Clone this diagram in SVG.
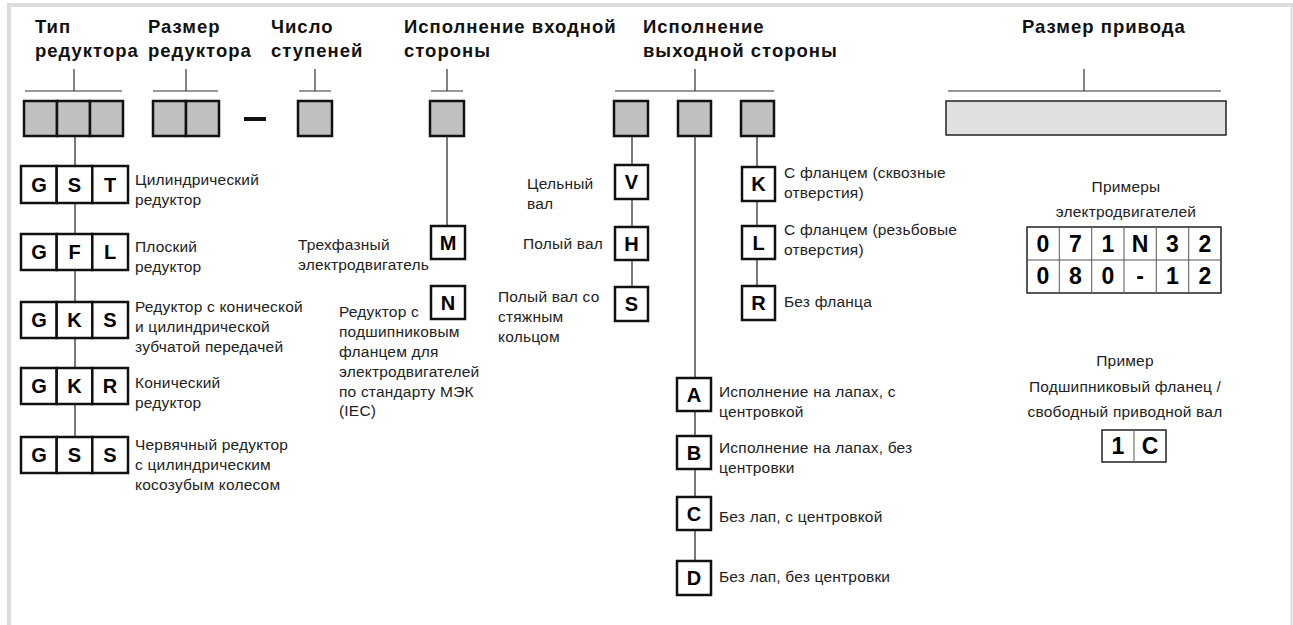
<svg xmlns="http://www.w3.org/2000/svg" width="1293" height="625" viewBox="0 0 1293 625">
<style>
.h{font-family:"Liberation Sans",Arial,sans-serif;font-weight:bold;font-size:18.5px;letter-spacing:1px;fill:#111}
.t{font-family:"Liberation Sans",Arial,sans-serif;font-size:15.5px;letter-spacing:0.2px;fill:#222}
.tc{font-family:"Liberation Sans",Arial,sans-serif;font-size:15.5px;letter-spacing:0.2px;fill:#222;text-anchor:middle}
.L{font-family:"Liberation Sans",Arial,sans-serif;font-weight:bold;font-size:20px;fill:#000;text-anchor:middle}
.d{font-family:"Liberation Sans Narrow","Liberation Sans",Arial,sans-serif;font-weight:bold;font-size:23px;fill:#000;text-anchor:middle}
.g{fill:#c0c0c0;stroke:#111;stroke-width:2.5}
.w{fill:#fff;stroke:#111;stroke-width:2.5}
.br{stroke:#333;stroke-width:1.2;fill:none}
.c{stroke:#333;stroke-width:1.3;fill:none}
.tb{fill:#fff;stroke:#222;stroke-width:1.5}
.ti{stroke:#555;stroke-width:1;fill:none}
</style>
<rect width="1293" height="625" fill="#fff"/>
<g id="frame" stroke="#dcdcdc" fill="none">
<line x1="9" y1="3" x2="9" y2="625" stroke-width="4"/>
<line x1="7" y1="5" x2="1293" y2="5" stroke-width="4"/>
<line x1="1291.5" y1="3" x2="1291.5" y2="625" stroke-width="2"/>
</g>
<g id="headings">
<text class="h" x="35" y="33">Тип</text>
<text class="h" x="35" y="57">редуктора</text>
<text class="h" x="148" y="33">Размер</text>
<text class="h" x="148" y="57">редуктора</text>
<text class="h" x="271" y="33">Число</text>
<text class="h" x="271" y="57">ступеней</text>
<text class="h" x="404" y="33">Исполнение входной</text>
<text class="h" x="404" y="57">стороны</text>
<text class="h" x="643" y="33">Исполнение</text>
<text class="h" x="643" y="57">выходной стороны</text>
<text class="h" x="1022" y="33">Размер привода</text>
</g>
<g id="connectors">
<path class="br" d="M25,91H122M74,69V91M153,91H218M186,69V91M299,91H331M315,69V91M431,91H463M447,69V91M615,91H774M695,69V91M948,91H1221M1084,69V91"/>
<path class="c" d="M75,136V437M447,136V226M632,136V287M695,136V561M757,136V286"/>
</g>
<g id="code-type">
<rect class="g" x="24" y="101" width="33" height="35"/>
<rect class="g" x="57" y="101" width="33" height="35"/>
<rect class="g" x="90" y="101" width="33" height="35"/>
</g>
<g id="code-size">
<rect class="g" x="153" y="101" width="33" height="35"/>
<rect class="g" x="186" y="101" width="33" height="35"/>
</g>
<rect id="dash" x="244" y="117" width="22" height="4" fill="#111"/>
<g id="code-stages"><rect class="g" x="298" y="101" width="34" height="35"/></g>
<g id="code-input"><rect class="g" x="430" y="101" width="34" height="35"/></g>
<g id="code-output">
<rect class="g" x="614" y="101" width="34" height="35"/>
<rect class="g" x="678" y="101" width="33" height="35"/>
<rect class="g" x="741" y="101" width="33" height="35"/>
</g>
<g id="code-drive"><rect x="946" y="101" width="280" height="34" fill="#e0e0e0" stroke="#222" stroke-width="1.5"/></g>

<g id="GST">
<rect class="w" x="21" y="166" width="35.7" height="37"/><rect class="w" x="56.7" y="166" width="35.6" height="37"/><rect class="w" x="92.3" y="166" width="35.7" height="37"/>
<text class="L" x="39" y="192">G</text><text class="L" x="74.5" y="192">S</text><text class="L" x="110" y="192">T</text>
<text class="t" x="135" y="185">Цилиндрический</text><text class="t" x="135" y="205">редуктор</text>
</g>
<g id="GFL">
<rect class="w" x="21" y="234" width="35.7" height="36"/><rect class="w" x="56.7" y="234" width="35.6" height="36"/><rect class="w" x="92.3" y="234" width="35.7" height="36"/>
<text class="L" x="39" y="259">G</text><text class="L" x="74.5" y="259">F</text><text class="L" x="110" y="259">L</text>
<text class="t" x="135" y="252">Плоский</text><text class="t" x="135" y="272">редуктор</text>
</g>
<g id="GKS">
<rect class="w" x="21" y="302" width="35.7" height="36"/><rect class="w" x="56.7" y="302" width="35.6" height="36"/><rect class="w" x="92.3" y="302" width="35.7" height="36"/>
<text class="L" x="39" y="327">G</text><text class="L" x="74.5" y="327">K</text><text class="L" x="110" y="327">S</text>
<text class="t" x="135" y="312">Редуктор с конической</text><text class="t" x="135" y="332">и цилиндрической</text><text class="t" x="135" y="352">зубчатой передачей</text>
</g>
<g id="GKR">
<rect class="w" x="21" y="368" width="35.7" height="36"/><rect class="w" x="56.7" y="368" width="35.6" height="36"/><rect class="w" x="92.3" y="368" width="35.7" height="36"/>
<text class="L" x="39" y="393">G</text><text class="L" x="74.5" y="393">K</text><text class="L" x="110" y="393">R</text>
<text class="t" x="135" y="388">Конический</text><text class="t" x="135" y="408">редуктор</text>
</g>
<g id="GSS">
<rect class="w" x="21" y="437" width="35.7" height="36"/><rect class="w" x="56.7" y="437" width="35.6" height="36"/><rect class="w" x="92.3" y="437" width="35.7" height="36"/>
<text class="L" x="39" y="462">G</text><text class="L" x="74.5" y="462">S</text><text class="L" x="110" y="462">S</text>
<text class="t" x="135" y="450">Червячный редуктор</text><text class="t" x="135" y="470">с цилиндрическим</text><text class="t" x="135" y="490">косозубым колесом</text>
</g>

<g id="M">
<rect class="w" x="431" y="226" width="34" height="33"/><text class="L" x="448" y="250">M</text>
<text class="t" x="298" y="250">Трехфазный</text><text class="t" x="298" y="270">электродвигатель</text>
</g>
<g id="N">
<rect class="w" x="431" y="286" width="34" height="33"/><text class="L" x="448" y="310">N</text>
<text class="t" x="339" y="317">Редуктор с</text><text class="t" x="339" y="337">подшипниковым</text><text class="t" x="339" y="357">фланцем для</text><text class="t" x="339" y="377">электродвигателей</text><text class="t" x="339" y="397">по стандарту МЭК</text><text class="t" x="339" y="416">(IEC)</text>
</g>

<g id="V">
<rect class="w" x="615" y="165" width="33" height="34"/><text class="L" x="631.5" y="189">V</text>
<text class="t" x="527" y="189">Цельный</text><text class="t" x="527" y="209">вал</text>
</g>
<g id="H">
<rect class="w" x="615" y="227" width="33" height="33"/><text class="L" x="631.5" y="251">H</text>
<text class="t" x="523" y="249">Полый вал</text>
</g>
<g id="S">
<rect class="w" x="615" y="287" width="33" height="34"/><text class="L" x="631.5" y="311">S</text>
<text class="t" x="498" y="302">Полый вал со</text><text class="t" x="498" y="322">стяжным</text><text class="t" x="498" y="342">кольцом</text>
</g>

<g id="K">
<rect class="w" x="742" y="167" width="33" height="34"/><text class="L" x="758.5" y="191">K</text>
<text class="t" x="784" y="178">С фланцем (сквозные</text><text class="t" x="784" y="198">отверстия)</text>
</g>
<g id="Lf">
<rect class="w" x="742" y="226" width="33" height="33"/><text class="L" x="758.5" y="250">L</text>
<text class="t" x="784" y="235">С фланцем (резьбовые</text><text class="t" x="784" y="255">отверстия)</text>
</g>
<g id="R">
<rect class="w" x="742" y="286" width="33" height="34"/><text class="L" x="758.5" y="310">R</text>
<text class="t" x="784" y="307">Без фланца</text>
</g>

<g id="A">
<rect class="w" x="677" y="378" width="34" height="33"/><text class="L" x="694" y="402">A</text>
<text class="t" x="719" y="397">Исполнение на лапах, с</text><text class="t" x="719" y="417">центровкой</text>
</g>
<g id="B">
<rect class="w" x="677" y="436" width="34" height="33"/><text class="L" x="694" y="460">B</text>
<text class="t" x="719" y="453">Исполнение на лапах, без</text><text class="t" x="719" y="473">центровки</text>
</g>
<g id="C">
<rect class="w" x="677" y="497" width="34" height="33"/><text class="L" x="694" y="521">C</text>
<text class="t" x="719" y="522">Без лап, с центровкой</text>
</g>
<g id="D">
<rect class="w" x="677" y="561" width="34" height="34"/><text class="L" x="694" y="585">D</text>
<text class="t" x="719" y="582">Без лап, без центровки</text>
</g>

<g id="motor-examples">
<text class="tc" x="1126" y="192">Примеры</text>
<text class="tc" x="1126" y="217">электродвигателей</text>
<rect class="tb" x="1027" y="227" width="194" height="66"/>
<path class="ti" d="M1059.3,227V293M1091.7,227V293M1124,227V293M1156.3,227V293M1188.7,227V293M1027,260H1221"/>
<text class="d" x="1043" y="252">0</text><text class="d" x="1075.5" y="252">7</text><text class="d" x="1108" y="252">1</text><text class="d" x="1140" y="252">N</text><text class="d" x="1172.5" y="252">3</text><text class="d" x="1205" y="252">2</text>
<text class="d" x="1043" y="284">0</text><text class="d" x="1075.5" y="284">8</text><text class="d" x="1108" y="284">0</text><text class="d" x="1140" y="284">-</text><text class="d" x="1172.5" y="284">1</text><text class="d" x="1205" y="284">2</text>
</g>
<g id="flange-example">
<text class="tc" x="1125" y="366">Пример</text>
<text class="tc" x="1125" y="392">Подшипниковый фланец /</text>
<text class="tc" x="1125" y="417">свободный приводной вал</text>
<rect class="tb" x="1102" y="430" width="64" height="32"/>
<path class="ti" d="M1134,430V462"/>
<text class="d" x="1118" y="454">1</text><text class="d" x="1150" y="454">C</text>
</g>
</svg>
